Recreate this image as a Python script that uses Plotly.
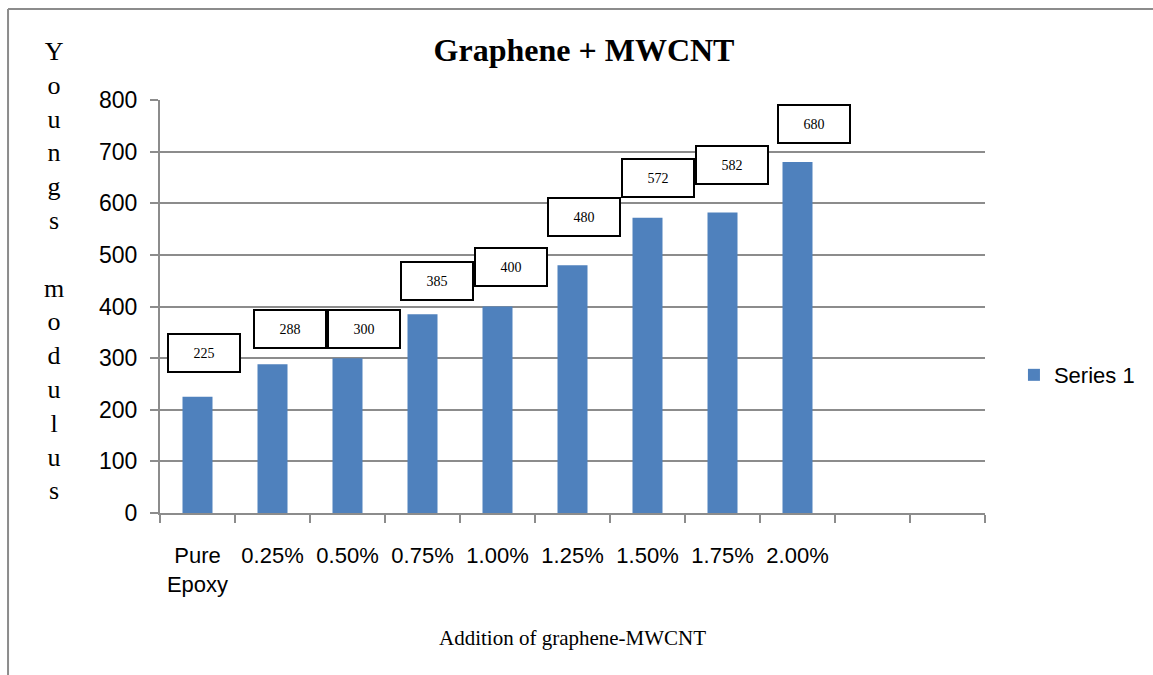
import plotly.graph_objects as go

# ---- data ----
categories = ["Pure<br>Epoxy", "0.25%", "0.50%", "0.75%", "1.00%", "1.25%", "1.50%", "1.75%", "2.00%"]
empty_slots = [" ", "  "]
youngs_modulus = [225, 288, 300, 385, 400, 480, 572, 582, 680]
series_name = "Series 1"
y_ticks = [0, 100, 200, 300, 400, 500, 600, 700, 800]

# label box offsets (pixels, relative to top of each bar)
label_dx = [6, 17, 16, 14, 13, 11, 10, 9, 16]
label_dy = [44, 35, 29, 33, 40, 48, 40, 48, 38]

BLUE = "#4F81BD"
GRID = "#8C8C8C"
SERIF = "Liberation Serif, Times New Roman, serif"
SANS = "Liberation Sans, Arial, sans-serif"

fig = go.Figure()
fig.add_trace(go.Bar(
    x=categories, y=youngs_modulus, name=series_name,
    marker=dict(color=BLUE, line=dict(width=0)),
    showlegend=True,
))

annotations = []
for c, v, dx, dy in zip(categories, youngs_modulus, label_dx, label_dy):
    annotations.append(dict(
        x=c, y=v, xref="x", yref="y", text=str(v), showarrow=False,
        xshift=dx, yshift=dy, width=68, height=34, borderpad=1,
        bordercolor="black", borderwidth=2, bgcolor="white",
        font=dict(family=SERIF, size=14, color="black"),
    ))

# vertical y-axis title, one letter per line
ytitle_letters = "Youngs modulus"
ytitle = "<br>".join(ch if ch != " " else "&nbsp;" for ch in ytitle_letters)
annotations.append(dict(
    x=-0.128, y=0.585, xref="paper", yref="paper", text=ytitle, showarrow=False,
    xanchor="center", yanchor="middle", align="center",
    font=dict(family=SERIF, size=26, color="black"),
))
annotations.append(dict(
    x=0.5, y=-0.303, xref="paper", yref="paper", text="Addition of graphene-MWCNT",
    showarrow=False, xanchor="center", yanchor="middle",
    font=dict(family=SERIF, size=21, color="black"),
))

fig.update_layout(
    width=1153, height=675,
    margin=dict(l=160, r=168, t=100, b=162),
    paper_bgcolor="white", plot_bgcolor="white",
    title=dict(text="<b>Graphene + MWCNT</b>", x=0.5065, xanchor="center", y=0.926, yanchor="middle",
               font=dict(family=SERIF, size=32, color="black")),
    bargap=0.6,
    annotations=annotations,
    legend=dict(xref="container", yref="container", x=0.8794, y=0.4444,
                xanchor="left", yanchor="middle",
                font=dict(family=SANS, size=22, color="black"),
                itemwidth=30, bgcolor="rgba(0,0,0,0)"),
    shapes=[
        dict(type="line", xref="paper", yref="paper", x0=-0.1842, x1=-0.1842, y0=-0.40, y1=1.2203,
             line=dict(color=GRID, width=2)),
        dict(type="line", xref="paper", yref="paper", x0=-0.1842, x1=1.21, y0=1.2203, y1=1.2203,
             line=dict(color=GRID, width=2)),
    ],
)

fig.update_xaxes(
    type="category", categoryorder="array", categoryarray=categories + empty_slots,
    range=[-0.5, len(categories) + len(empty_slots) - 0.5],
    showline=True, linecolor=GRID, linewidth=2,
    ticks="outside", tickson="boundaries", ticklen=8, tickcolor=GRID, tickwidth=2,
    showgrid=False, tickangle=0, ticklabelstandoff=22,
    tickfont=dict(family=SANS, size=22, color="black"),
)
fig.update_yaxes(
    range=[0, 800], tickvals=y_ticks,
    showline=True, linecolor=GRID, linewidth=2,
    ticks="outside", ticklen=8, tickcolor=GRID, tickwidth=2,
    showgrid=True, gridcolor=GRID, gridwidth=2, zeroline=False,
    ticklabelstandoff=8,
    tickfont=dict(family=SANS, size=23, color="black"),
)

fig.write_html("out.html", config={"displayModeBar": False},
               post_script="document.body.style.margin='0';document.body.style.overflow='hidden';")
